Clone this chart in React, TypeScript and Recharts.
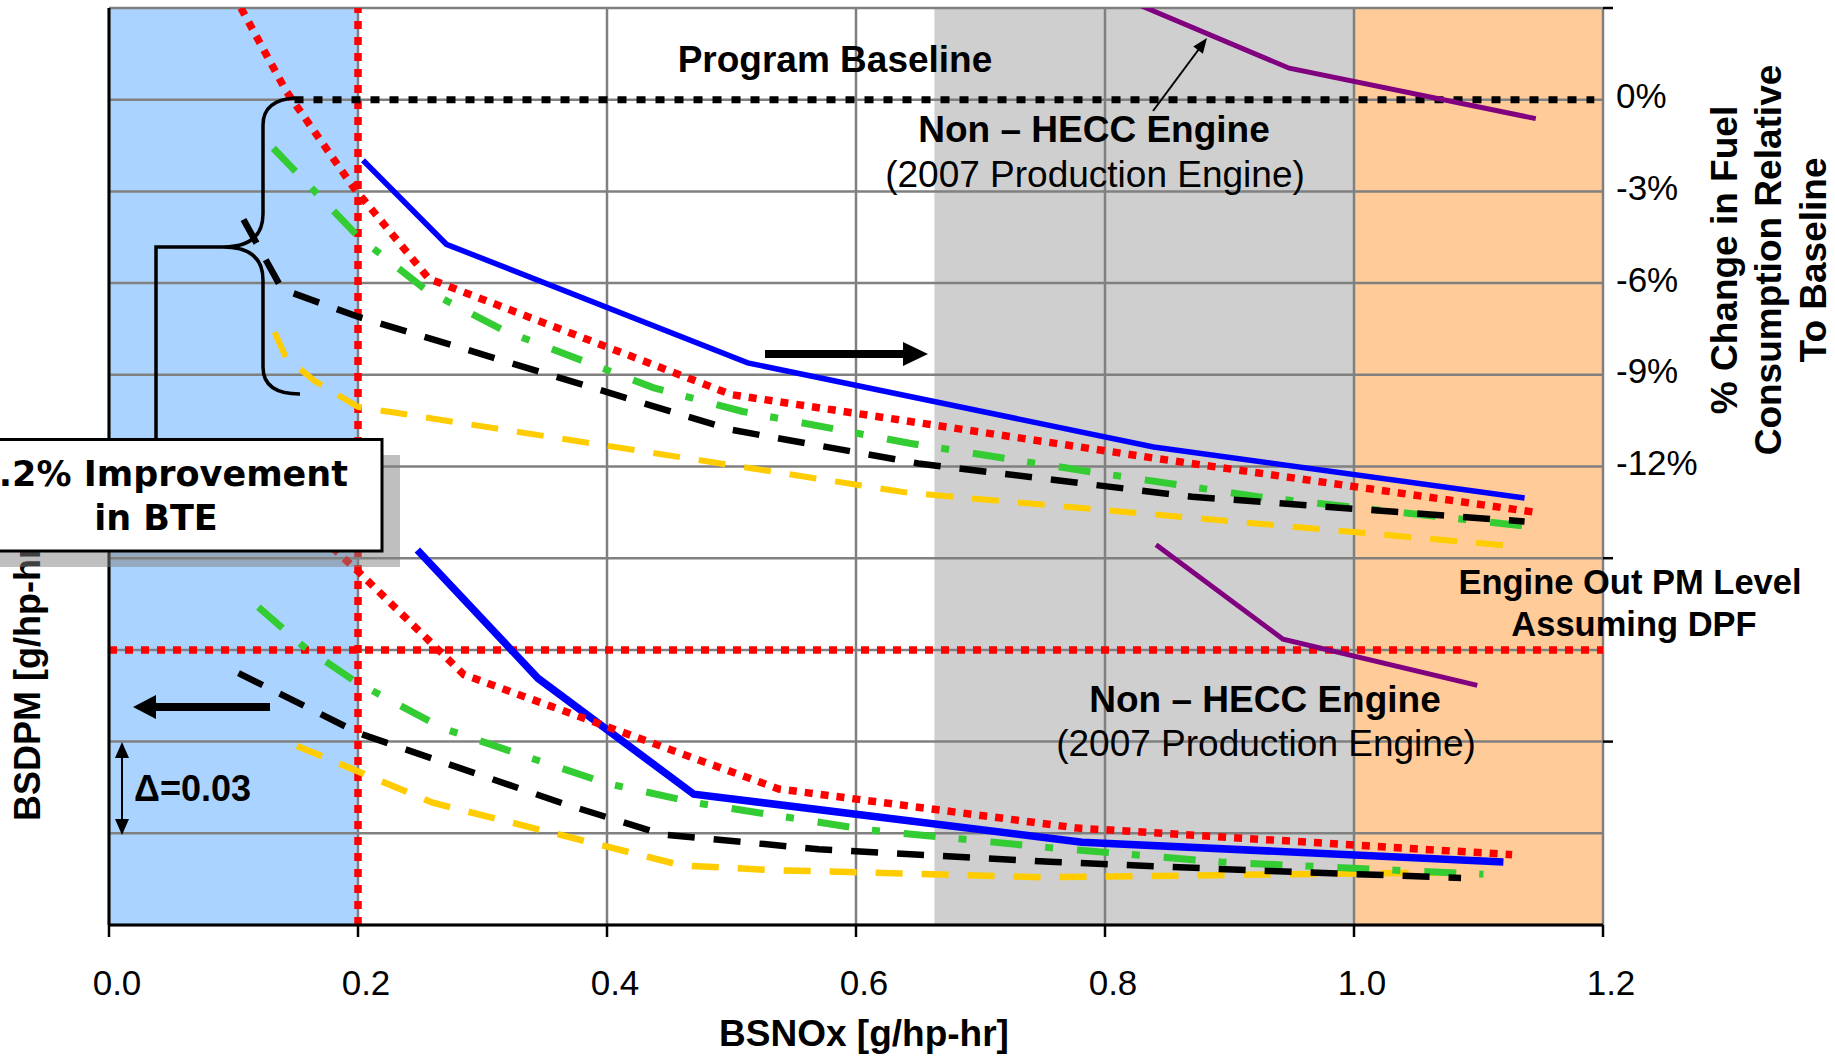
import React from "react";
import {
  ComposedChart,
  Line,
  XAxis,
  YAxis,
  CartesianGrid,
  ReferenceArea,
  ReferenceLine,
} from "recharts";

const W = 1835;
const H = 1059;
const FONT = "'Liberation Sans', Arial, Helvetica, sans-serif";
const BOX_FONT = "'DejaVu Sans', Verdana, sans-serif";

// axis ticks
const xTicks = [0, 0.2, 0.4, 0.6, 0.8, 1.0, 1.2];
const bsdpmTicks = [0, 0.03, 0.06, 0.09, 0.12, 0.15, 0.18, 0.21, 0.24, 0.27, 0.3];
const fuelTicks = [3, 0, -3, -6, -9, -12, -15, -18, -21, -24, -27];
const fuelLabelled = [0, -3, -6, -9, -12];
const fuelTickMarks = [3, -15, -21];

// shaded BSNOx zones and limits
const blueZone = [0, 0.2];
const grayZone = [0.663, 1.0];
const orangeZone = [1.0, 1.2];
const noxTarget = 0.2;
const pmLevelDpf = 0.09;

// fuel consumption change (%), right axis
const baselineX = [0.149, 1.193];
const baselineY = [0, 0];
const blueFuelX = [0.204, 0.271, 0.513, 0.839, 1.137];
const blueFuelY = [-1.98, -4.73, -8.61, -11.36, -13.03];
const redFuelX = [0.106, 0.142, 0.196, 0.257, 0.5, 0.84, 1.146];
const redFuelY = [3.0, 0.3, -2.85, -5.86, -9.65, -11.73, -13.5];
const greenFuelX = [0.132, 0.2, 0.255, 0.317, 0.437, 0.509, 0.643, 0.783, 0.923, 1.146];
const greenFuelY = [-1.59, -4.47, -6.24, -7.55, -9.42, -10.2, -11.24, -12.14, -12.99, -13.99];
const blackFuelX = [0.108, 0.139, 0.2, 0.5, 0.65, 0.87, 1.137];
const blackFuelY = [-3.92, -6.2, -7.1, -10.8, -11.9, -12.99, -13.8];
const yellowFuelX = [0.133, 0.142, 0.165, 0.2, 0.642, 1.132];
const yellowFuelY = [-7.61, -8.42, -9.2, -10.05, -12.86, -14.62];
const purpleFuelX = [0.828, 0.948, 1.146];
const purpleFuelY = [3.09, 1.03, -0.62];

// BSDPM (g/hp-hr), left axis
const blueBsdpmX = [0.2477, 0.3446, 0.4697, 0.7815, 1.12];
const blueBsdpmY = [0.1227, 0.0807, 0.0428, 0.0271, 0.0206];
const redBsdpmX = [0.17, 0.2, 0.285, 0.538, 0.778, 1.127];
const redBsdpmY = [0.127, 0.1157, 0.0819, 0.0445, 0.0317, 0.023];
const greenBsdpmX = [0.12, 0.156, 0.198, 0.268, 0.336, 0.4, 0.472, 0.61, 0.753, 0.893, 1.104];
const greenBsdpmY = [0.104, 0.0912, 0.0796, 0.0644, 0.055, 0.0463, 0.0399, 0.0311, 0.0254, 0.0206, 0.0166];
const blackBsdpmX = [0.104, 0.2015, 0.368, 0.445, 0.57, 0.76, 0.93, 1.086];
const blackBsdpmY = [0.0824, 0.0626, 0.0393, 0.0296, 0.0248, 0.0206, 0.0177, 0.0154];
const yellowBsdpmX = [0.151, 0.26, 0.46, 0.53, 0.75, 0.89, 1.08];
const yellowBsdpmY = [0.0586, 0.04, 0.0195, 0.018, 0.0156, 0.0163, 0.0172];
const purpleBsdpmX = [0.841, 0.943, 1.099];
const purpleBsdpmY = [0.1244, 0.0935, 0.0784];

const zip = (xs: number[], ys: number[]) => xs.map((x, i) => ({ x, y: ys[i] }));

// arrow head polygon pointing at (x2, y2)
function headPoints(x1: number, y1: number, x2: number, y2: number, len: number, half: number) {
  const dx = x2 - x1;
  const dy = y2 - y1;
  const d = Math.hypot(dx, dy);
  const ux = dx / d;
  const uy = dy / d;
  const bx = x2 - ux * len;
  const by = y2 - uy * len;
  return `${x2},${y2} ${bx - uy * half},${by + ux * half} ${bx + uy * half},${by - ux * half}`;
}

function XTick(props: any) {
  const { x, y, payload } = props;
  return (
    <text x={x + 8} y={y} dy="0.71em" textAnchor="middle" fontSize={35} fontFamily={FONT} fill="#000">
      {Number(payload.value).toFixed(1)}
    </text>
  );
}

function FuelTick(props: any) {
  const { x, y, payload } = props;
  const v = payload.value;
  if (fuelTickMarks.includes(v)) {
    return <line x1={x - 13} x2={x - 3} y1={y} y2={y} stroke="#000" strokeWidth={2.5} />;
  }
  if (fuelLabelled.includes(v)) {
    return (
      <text x={x} y={y - 4} dy="0.355em" textAnchor="start" fontSize={35} fontFamily={FONT} fill="#000">
        {`${v}%`}
      </text>
    );
  }
  return null;
}

function Annotations() {
  return (
    <svg width={W} height={H} style={{ position: "absolute", left: 0, top: 0, pointerEvents: "none" }}>
      <g fontFamily={FONT} fill="#000">
        <text x={835} y={72} fontSize={37} fontWeight="bold" textAnchor="middle">Program Baseline</text>
        <text x={1094} y={142} fontSize={37} fontWeight="bold" textAnchor="middle">Non – HECC Engine</text>
        <text x={1095} y={187} fontSize={37} textAnchor="middle">(2007 Production Engine)</text>
        <text x={1265} y={712} fontSize={37} fontWeight="bold" textAnchor="middle">Non – HECC Engine</text>
        <text x={1266} y={756} fontSize={37} textAnchor="middle">(2007 Production Engine)</text>
        <text x={1630} y={594} fontSize={34.5} fontWeight="bold" textAnchor="middle">Engine Out PM Level</text>
        <text x={1634} y={636} fontSize={34.5} fontWeight="bold" textAnchor="middle">Assuming DPF</text>
        <text x={134} y={801} fontSize={36} fontWeight="bold">Δ=0.03</text>
        <text x={864} y={1046} fontSize={37} fontWeight="bold" textAnchor="middle">BSNOx [g/hp-hr]</text>
        <g fontSize={37} fontWeight="bold" textAnchor="middle">
          <text x={1737} y={260} transform="rotate(-90 1737 260)">% Change in Fuel</text>
          <text x={1781} y={260} transform="rotate(-90 1781 260)">Consumption Relative</text>
          <text x={1826} y={260} transform="rotate(-90 1826 260)">To Baseline</text>
        </g>
        <text x={40} y={677} fontSize={36} fontWeight="bold" textAnchor="middle" transform="rotate(-90 40 677)">
          BSDPM [g/hp-hr]
        </text>
      </g>

      {/* thin arrow to non-HECC curve */}
      <line x1={1153} y1={111} x2={1199} y2={49} stroke="#000" strokeWidth={2} />
      <polygon points={headPoints(1153, 111, 1207, 38, 15, 6)} fill="#000" />

      {/* thick arrows */}
      <line x1={765} y1={354} x2={906} y2={354} stroke="#000" strokeWidth={8} />
      <polygon points={headPoints(765, 354, 928, 354, 25, 12)} fill="#000" />
      <line x1={270} y1={707} x2={152} y2={707} stroke="#000" strokeWidth={8} />
      <polygon points={headPoints(270, 707, 133, 707, 23, 12)} fill="#000" />

      {/* delta arrow */}
      <line x1={122} y1={755} x2={122} y2={822} stroke="#000" strokeWidth={2} />
      <polygon points={headPoints(122, 790, 122, 742, 16, 7)} fill="#000" />
      <polygon points={headPoints(122, 790, 122, 835, 16, 7)} fill="#000" />

      {/* brace and connector */}
      <path
        d="M 295 98 Q 263 100 263 125 L 263 214 Q 263 247 223 247 Q 263 247 263 280 L 263 367 Q 263 394 300 394"
        fill="none"
        stroke="#000"
        strokeWidth={3.5}
      />
      <path d="M 223 247 L 156 247 L 156 440" fill="none" stroke="#000" strokeWidth={3.5} />

      {/* BTE box */}
      <rect x={-52} y={455} width={452} height={112} fill="rgba(128,128,128,0.5)" />
      <rect x={-70} y={439.5} width={452} height={111.5} fill="#fff" stroke="#000" strokeWidth={3} />
      <g fontFamily={BOX_FONT} fontWeight="bold" fontSize={35} fill="#000">
        <text x={348} y={486} textAnchor="end">.2% Improvement</text>
        <text x={156} y={530} textAnchor="middle">in BTE</text>
      </g>
    </svg>
  );
}

export default function App() {
  const common = { dot: false, activeDot: false, isAnimationActive: false, type: "linear" as const, legendType: "none" as const };
  return (
    <div style={{ position: "absolute", left: 0, top: 0, width: W, height: H, background: "#fff" }}>
      <ComposedChart width={W} height={H} margin={{ top: 8, right: 0, bottom: 0, left: 0 }}>
        <ReferenceArea yAxisId="left" x1={blueZone[0]} x2={blueZone[1]} fill="#AAD4FF" fillOpacity={1} stroke="none" zIndex={-200} />
        <ReferenceArea yAxisId="left" x1={grayZone[0]} x2={grayZone[1]} fill="#CFCFCF" fillOpacity={1} stroke="none" zIndex={-200} />
        <ReferenceArea yAxisId="left" x1={orangeZone[0]} x2={orangeZone[1]} fill="#FFCC99" fillOpacity={1} stroke="none" zIndex={-200} />
        <CartesianGrid yAxisId="right" stroke="#808080" strokeWidth={2.5} />
        <XAxis
          type="number"
          dataKey="x"
          domain={[0, 1.2]}
          ticks={xTicks}
          interval={0}
          allowDataOverflow
          height={134}
          tickSize={12}
          tickMargin={33}
          axisLine={{ stroke: "#000", strokeWidth: 3 }}
          tickLine={{ stroke: "#000", strokeWidth: 2.5 }}
          tick={XTick}
        />
        <YAxis
          yAxisId="left"
          type="number"
          domain={[0, 0.3]}
          ticks={bsdpmTicks}
          interval={0}
          allowDataOverflow
          width={109}
          tickSize={10}
          tick={false}
          axisLine={{ stroke: "#000", strokeWidth: 3 }}
          tickLine={{ stroke: "#000", strokeWidth: 2.5 }}
        />
        <YAxis
          yAxisId="right"
          orientation="right"
          type="number"
          domain={[-27, 3]}
          ticks={fuelTicks}
          interval={0}
          allowDataOverflow
          width={232}
          tickSize={10}
          tickMargin={3}
          axisLine={false}
          tickLine={false}
          tick={FuelTick}
        />
        <ReferenceLine yAxisId="left" y={pmLevelDpf} stroke="#FF0000" strokeWidth={7.5} strokeDasharray="8 8" />
        <ReferenceLine yAxisId="left" x={noxTarget} stroke="#FF0000" strokeWidth={7.5} strokeDasharray="8 8" />

        <Line {...common} yAxisId="right" data={zip(baselineX, baselineY)} dataKey="y" stroke="#000" strokeWidth={7} strokeDasharray="9 10" />
        <Line {...common} yAxisId="right" data={zip(yellowFuelX, yellowFuelY)} dataKey="y" stroke="#FFCC00" strokeWidth={6} strokeDasharray="27 19" />
        <Line {...common} yAxisId="right" data={zip(greenFuelX, greenFuelY)} dataKey="y" stroke="#33CC33" strokeWidth={7} strokeDasharray="32 23 8 24" />
        <Line {...common} yAxisId="right" data={zip(blackFuelX, blackFuelY)} dataKey="y" stroke="#000" strokeWidth={6.5} strokeDasharray="27 19" />
        <Line {...common} yAxisId="right" data={zip(blueFuelX, blueFuelY)} dataKey="y" stroke="#0000FF" strokeWidth={5.5} />
        <Line {...common} yAxisId="right" data={zip(redFuelX, redFuelY)} dataKey="y" stroke="#FF0000" strokeWidth={7.5} strokeDasharray="8 8" />
        <Line {...common} yAxisId="right" data={zip(purpleFuelX, purpleFuelY)} dataKey="y" stroke="#800080" strokeWidth={5} />

        <Line {...common} yAxisId="left" data={zip(yellowBsdpmX, yellowBsdpmY)} dataKey="y" stroke="#FFCC00" strokeWidth={6.5} strokeDasharray="27 19" />
        <Line {...common} yAxisId="left" data={zip(greenBsdpmX, greenBsdpmY)} dataKey="y" stroke="#33CC33" strokeWidth={7} strokeDasharray="32 23 8 24" />
        <Line {...common} yAxisId="left" data={zip(blackBsdpmX, blackBsdpmY)} dataKey="y" stroke="#000" strokeWidth={6.5} strokeDasharray="27 19" />
        <Line {...common} yAxisId="left" data={zip(blueBsdpmX, blueBsdpmY)} dataKey="y" stroke="#0000FF" strokeWidth={7.5} />
        <Line {...common} yAxisId="left" data={zip(redBsdpmX, redBsdpmY)} dataKey="y" stroke="#FF0000" strokeWidth={7.5} strokeDasharray="8 8" />
        <Line {...common} yAxisId="left" data={zip(purpleBsdpmX, purpleBsdpmY)} dataKey="y" stroke="#800080" strokeWidth={5} />
      </ComposedChart>
      <Annotations />
    </div>
  );
}
